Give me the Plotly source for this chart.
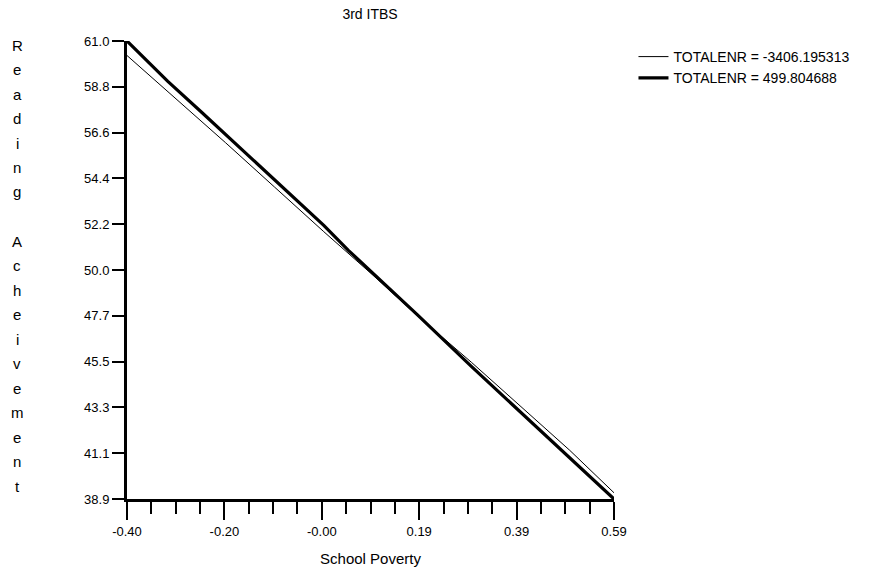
import plotly.graph_objects as go

# ---- data ----
x_thin = [-0.40, -0.30, -0.20, -0.10, 0.00, 0.10, 0.19, 0.30, 0.39, 0.50, 0.59]
y_thin = [60.3, 58.2, 56.1, 53.95, 51.8, 49.7, 47.75, 45.5, 43.6, 41.25, 39.2]

x_thick = [-0.40, -0.35, -0.317, -0.25, -0.20, -0.10, 0.00, 0.05, 0.10, 0.19, 0.30, 0.39, 0.50, 0.59]
y_thick = [61.0, 59.85, 59.05, 57.6, 56.5, 54.3, 52.1, 50.9, 49.8, 47.8, 45.3, 43.3, 40.9, 38.9]

series_names = ["TOTALENR = -3406.195313", "TOTALENR = 499.804688"]

x_tickvals = [-0.40, -0.202, -0.004, 0.194, 0.392, 0.59]
x_ticktext = ["-0.40", "-0.20", "-0.00", "0.19", "0.39", "0.59"]
y_tickvals = [38.9, 41.11, 43.32, 45.53, 47.74, 49.95, 52.16, 54.37, 56.58, 58.79, 61.0]
y_ticktext = ["38.9", "41.1", "43.3", "45.5", "47.7", "50.0", "52.2", "54.4", "56.6", "58.8", "61.0"]

title_text = "3rd ITBS"
x_title = "School Poverty"
y_title = "Reading Acheivement"

# ---- figure ----
FONT = "Liberation Sans, Arial, sans-serif"
W, H = 877, 584
L, R, T, B = 127, 263, 41, 85
plot_w = W - L - R
plot_h = H - T - B

fig = go.Figure()
fig.add_trace(go.Scatter(x=x_thin, y=y_thin, mode="lines", name=series_names[0],
                         line=dict(color="black", width=1)))
fig.add_trace(go.Scatter(x=x_thick, y=y_thick, mode="lines", name=series_names[1],
                         line=dict(color="black", width=3.2)))

# vertical stacked y-axis title, one letter per line
letters = []
for word in y_title.split(" "):
    letters.extend(list(word))
    letters.append("")
letters = letters[:-1]
y0_px, step_px = 45, 24.5
for i, ch in enumerate(letters):
    if ch == "":
        continue
    py = y0_px + i * step_px
    fig.add_annotation(text=ch, xref="paper", yref="paper",
                       x=(17 - L) / plot_w, y=1 - (py - T) / plot_h,
                       showarrow=False, xanchor="center", yanchor="middle",
                       font=dict(family=FONT, size=15, color="black"))

fig.update_layout(
    width=W, height=H,
    margin=dict(l=L, r=R, t=T, b=B),
    paper_bgcolor="white", plot_bgcolor="white",
    font=dict(family=FONT, size=13, color="black"),
    title=dict(text=title_text, x=370 / W, xanchor="center", y=1 - 14 / H, yanchor="middle",
               font=dict(family=FONT, size=14, color="black")),
    showlegend=True,
    legend=dict(x=1.04, y=1.0, xanchor="left", yanchor="top",
                bgcolor="rgba(0,0,0,0)", font=dict(family=FONT, size=14),
                tracegroupgap=0, itemwidth=30),
    xaxis=dict(range=[-0.40, 0.59], tickmode="array", tickvals=x_tickvals, ticktext=x_ticktext,
               showgrid=False, zeroline=False, showline=True, linecolor="black", linewidth=3,
               ticks="outside", ticklen=18, tickwidth=1.5, tickcolor="black",
               tickfont=dict(family=FONT, size=13),
               minor=dict(ticks="outside", ticklen=12, tickwidth=1.5, tickcolor="black",
                          tick0=-0.40, dtick=0.0495, showgrid=False),
               title=dict(text=x_title, standoff=16, font=dict(family=FONT, size=15))),
    yaxis=dict(range=[38.9, 61.0], tickmode="array", tickvals=y_tickvals, ticktext=y_ticktext,
               showgrid=False, zeroline=False, showline=True, linecolor="black", linewidth=3,
               ticks="outside", ticklen=12, tickwidth=1.5, tickcolor="black",
               tickfont=dict(family=FONT, size=13)),
)

fig.write_html("out.html")
